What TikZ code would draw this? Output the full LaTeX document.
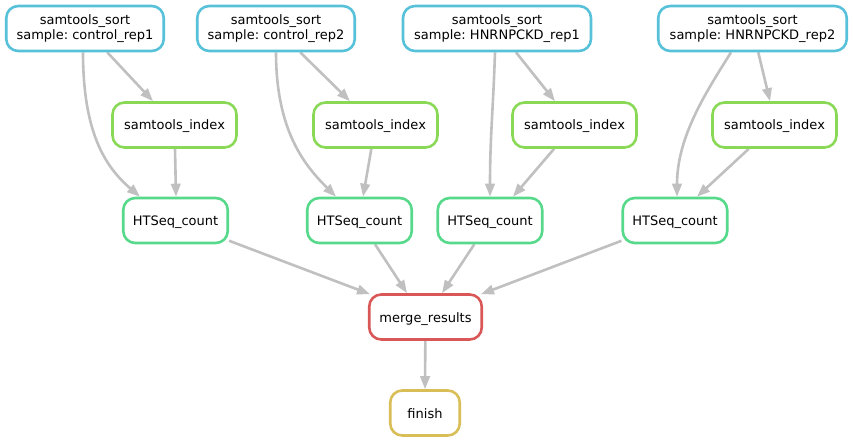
\documentclass[tikz,border=0pt]{standalone}
\usepackage{fontspec}
\setmainfont{DejaVu Sans}
\usetikzlibrary{arrows.meta,backgrounds}
\definecolor{sortc}{RGB}{87,193,217}
\definecolor{indexc}{RGB}{137,217,87}
\definecolor{countc}{RGB}{87,217,139}
\definecolor{mergec}{RGB}{217,87,87}
\definecolor{finishc}{RGB}{217,189,87}
\definecolor{edgec}{RGB}{192,192,192}
\frenchspacing
\begin{document}
\begin{tikzpicture}[x=1pt,y=-1pt,
  job/.style={draw, rounded corners=12pt, line width=2.6pt, fill=white,
    minimum height=45pt, inner sep=0pt, align=center,
    font=\fontsize{13}{15.5}\selectfont},
  oneline/.style={job, text height=10pt, text depth=0pt},
  sortbox/.style={job, draw=sortc},
  indexbox/.style={oneline, draw=indexc, minimum width=124pt},
  countbox/.style={oneline, draw=countc, minimum width=104.5pt},
  mergebox/.style={oneline, draw=mergec, minimum width=112.5pt},
  finishbox/.style={oneline, draw=finishc, minimum width=69.5pt},
  edge/.style={draw=edgec, line width=2.6pt, -{Triangle[length=13pt,width=9.5pt]}}]
\useasboundingbox (0,0) rectangle (853,443);

\node[sortbox, minimum width=157.5pt] (s1) at (85,28.5) {samtools\_sort\\sample: control\_rep1};
\node[sortbox, minimum width=157.5pt] (s2) at (276,28.5) {samtools\_sort\\sample: control\_rep2};
\node[sortbox, minimum width=188pt] (s3) at (497,28.5) {samtools\_sort\\sample: HNRNPCKD\_rep1};
\node[sortbox, minimum width=188.5pt] (s4) at (752.5,28.5) {samtools\_sort\\sample: HNRNPCKD\_rep2};

\node[indexbox] (i1) at (174.5,125) {samtools\_index};
\node[indexbox] (i2) at (375.5,125) {samtools\_index};
\node[indexbox] (i3) at (574.5,125) {samtools\_index};
\node[indexbox] (i4) at (774.5,125) {samtools\_index};

\node[countbox] (h1) at (175.5,220.5) {HTSeq\_count};
\node[countbox] (h2) at (359.5,220.5) {HTSeq\_count};
\node[countbox] (h3) at (490,220.5) {HTSeq\_count};
\node[countbox] (h4) at (675,220.5) {HTSeq\_count};

\node[mergebox] (m) at (425.5,317) {merge\_results};
\node[finishbox] (f) at (425,413) {finish};

\begin{pgfonlayer}{background}
% sort -> index
\draw[edge] (s1) -- ([xshift=-21.5pt]i1.north);
\draw[edge] (s2) -- ([xshift=-25.5pt]i2.north);
\draw[edge] (s3) -- ([xshift=-19.5pt]i3.north);
\draw[edge] (s4) -- ([xshift=-4.5pt]i4.north);
% sort -> count (curved)
\draw[edge] ([xshift=-2pt]s1.south) .. controls +(0,80) and +(-35,-30) .. ([xshift=-35.5pt]h1.north);
\draw[edge] ([xshift=0pt]s2.south) .. controls +(0,80) and +(-30,-30) .. ([xshift=-23.5pt]h2.north);
\draw[edge] ([xshift=-2pt]s3.south) .. controls +(-2,60) and +(0,-60) .. (h3.north);
\draw[edge] ([xshift=-21.5pt]s4.south) .. controls +(-25,40) and +(0,-60) .. ([xshift=2pt]h4.north);
% index -> count
\draw[edge] (i1) -- ([xshift=0.5pt]h1.north);
\draw[edge] (i2) -- ([xshift=3.5pt]h2.north);
\draw[edge] (i3) -- ([xshift=23pt]h3.north);
\draw[edge] (i4) -- ([xshift=22pt]h4.north);
% count -> merge
\draw[edge] (h1) -- ([xshift=-55.5pt,yshift=-1pt]m.north);
\draw[edge] (h2) -- ([xshift=-18.5pt]m.north);
\draw[edge] (h3) -- ([xshift=16.5pt]m.north);
\draw[edge] (h4) -- ([xshift=55.5pt,yshift=-1pt]m.north);
% merge -> finish
\draw[edge] (m) -- (f.north);
\end{pgfonlayer}
\end{tikzpicture}
\end{document}
